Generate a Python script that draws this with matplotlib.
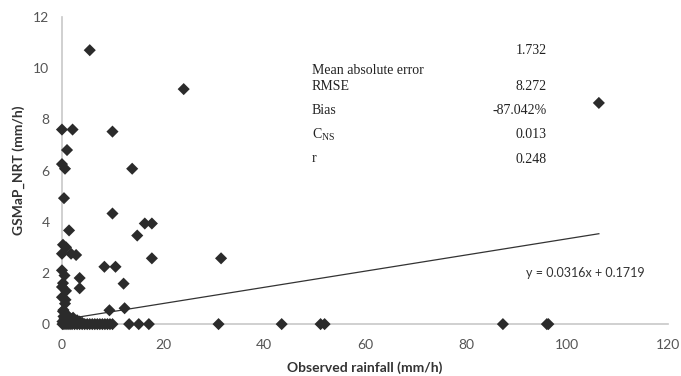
import matplotlib.pyplot as plt
import numpy as np

plt.rcParams['mathtext.fontset'] = 'custom'
plt.rcParams['mathtext.rm'] = 'Liberation Serif'

# observed rainfall (mm/h) vs GSMaP_NRT (mm/h)
obs = [5.5, 24.1, 106.3, 0.0, 2.1, 10.0, 1.0, 0.0, 0.6, 13.9, 0.4, 10.0,
       16.4, 17.8, 14.9, 1.4, 0.2, 0.8, 0.0, 1.8, 2.8, 17.8, 31.5, 8.4, 10.6,
       3.5, 3.5, 12.2, 12.4, 9.4,
       # vertical stack close to x = 0
       0.0, 0.5, 0.2, 0.8, 0.0, 0.6, 0.3, 1.0, 0.0, 0.7,
       # dense cluster near the origin
       0.1, 0.3, 0.5, 1.0, 1.5, 2.0, 0.2, 0.8, 2.5, 3.0, 4.0, 3.5, 1.2, 2.2,
       # zero GSMaP values
       0.1, 0.4, 0.8, 1.2, 1.6, 2.0, 2.5, 3.0, 3.5, 4.0, 4.5, 5.0, 5.5, 6.0,
       6.5, 7.0, 7.5, 8.0, 8.5, 9.0, 9.5, 10.0, 13.3, 15.2, 17.2, 31.0, 43.5,
       51.2, 52.0, 87.3, 96.0, 96.3]
gsmap = [10.7, 9.18, 8.64, 7.6, 7.6, 7.52, 6.8, 6.25, 6.07, 6.07, 4.92, 4.32,
         3.93, 3.93, 3.46, 3.66, 3.1, 3.0, 2.75, 2.75, 2.7, 2.57, 2.57, 2.24, 2.24,
         1.8, 1.4, 1.58, 0.62, 0.54,
         2.1, 1.9, 1.6, 1.3, 1.05, 0.8, 0.55, 0.3, 1.45, 0.95,
         0.1, 0.3, 0.2, 0.15, 0.1, 0.2, 0.5, 0.4, 0.1, 0.15, 0.05, 0.1, 0.3, 0.25,
         0, 0, 0, 0, 0, 0, 0, 0, 0, 0, 0, 0, 0, 0,
         0, 0, 0, 0, 0, 0, 0, 0, 0, 0, 0, 0, 0,
         0, 0, 0, 0, 0]

slope, intercept = 0.0316, 0.1719
trend_x = [0.0, 106.3]

stat_names = ['Mean absolute error', 'RMSE', 'Bias', r'C$_{\mathrm{NS}}$', 'r']
stat_values = ['1.732', '8.272', '-87.042%', '0.013', '0.248']

xticks = [0, 20, 40, 60, 80, 100, 120]
yticks = [0, 2, 4, 6, 8, 10, 12]

fig = plt.figure(figsize=(6.81, 3.76), dpi=100)
ax = fig.add_axes([0.091, 0.138, 0.890, 0.817])

ax.scatter(obs, gsmap, marker='D', s=38, color='#2b2b2b', edgecolors='none',
           zorder=3, clip_on=False)

ty = [slope * v + intercept for v in trend_x]
ax.plot(trend_x, ty, color='#333333', lw=0.9, zorder=2)

ax.set_xlim(0, 120)
ax.set_ylim(0, 12)
ax.set_xticks(xticks)
ax.set_yticks(yticks)
ax.tick_params(length=0, labelsize=10, labelcolor='#555555')
ax.tick_params(axis='x', pad=11)
ax.tick_params(axis='y', pad=9)
for lab in ax.get_xticklabels() + ax.get_yticklabels():
    lab.set_family('Lato')

for side in ['top', 'right']:
    ax.spines[side].set_visible(False)
for side in ['left', 'bottom']:
    ax.spines[side].set_color('#c8c8c8')
    ax.spines[side].set_linewidth(1.2)
ax.spines['bottom'].set_zorder(1)

ax.set_xlabel('Observed rainfall (mm/h)', family='Lato', fontweight='bold',
              fontsize=10, color='#333333', labelpad=7)
ax.set_ylabel('GSMaP_NRT (mm/h)', family='Lato', fontweight='bold',
              fontsize=10, color='#333333', labelpad=6)

# statistics table
name_y = [70, 87, 110, 135, 158]
val_y = [51, 86, 110, 135, 160]
for name, py in zip(stat_names, name_y):
    fig.text(312 / 681, 1 - py / 376, name, family='Liberation Serif', fontsize=10,
             color='#222222', va='center', ha='left')
for val, py in zip(stat_values, val_y):
    fig.text(547 / 681, 1 - py / 376, val, family='Liberation Serif', fontsize=10,
             color='#222222', va='center', ha='right')

fig.text(526 / 681, 1 - 273 / 376, 'y = 0.0316x + 0.1719', family='Lato', fontsize=9,
         color='#333333', va='center', ha='left')

fig.savefig('out.png', dpi=100)
